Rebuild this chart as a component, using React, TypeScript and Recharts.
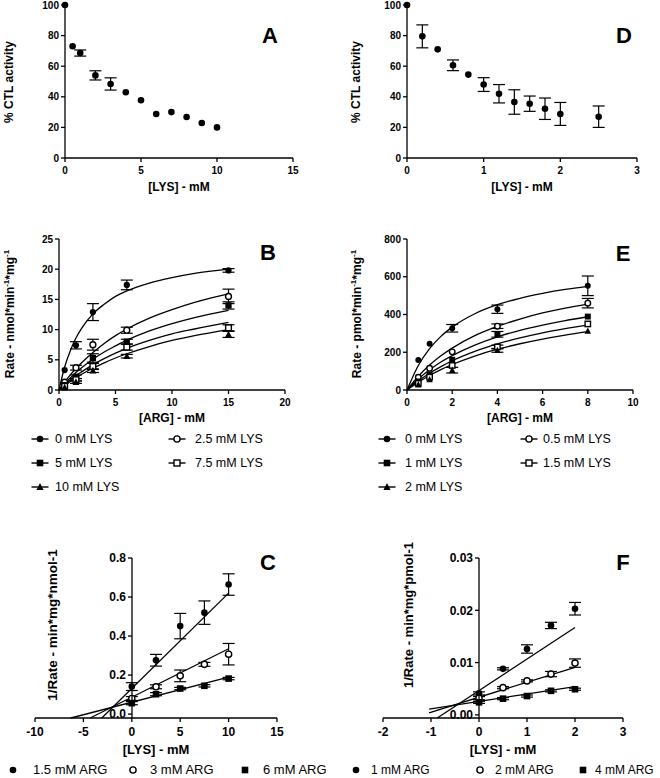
import React from 'react';
import { ComposedChart, Scatter, Line, XAxis, YAxis, ErrorBar, Label } from 'recharts';

const FONT = '"Liberation Sans", Arial, Helvetica, sans-serif';
const INK = '#000';

// A: % CTL activity vs [LYS]
const aLys = [0, 0.5, 1, 2, 3, 4, 5, 6, 7, 8, 9, 10];
const aActivity = [100, 73, 68.6, 54, 48.4, 43, 37.7, 28.8, 30, 26.8, 22.9, 20];
const aErr = [0, 0, 2, 3, 4, 0, 0, 0, 0, 0, 0, 0];

// D: % CTL activity vs [LYS]
const dLys = [0, 0.2, 0.4, 0.6, 0.8, 1, 1.2, 1.4, 1.6, 1.8, 2, 2.5];
const dActivity = [100, 79.5, 71, 60.6, 54.5, 48, 42, 36.6, 35.5, 32.2, 28.8, 27];
const dErr = [0, 7.5, 0, 3.5, 0, 4.5, 6, 8, 5, 7, 7.5, 7];

// B: rate (nmol) vs [ARG], five LYS levels
const bLysLabels = ['0 mM LYS', '2.5 mM LYS', '5 mM LYS', '7.5 mM LYS', '10 mM LYS'];
const bArg = [0.5, 1.5, 3, 6, 15];
const bRate = [
  [3.3, 7.4, 12.9, 17.4, 19.8],
  [1.3, 3.7, 7.5, 9.9, 15.5],
  [0.8, 2.2, 5.3, 8.0, 14.0],
  [0.6, 1.7, 3.9, 7.1, 10.3],
  [0.4, 1.3, 3.2, 5.6, 9.2],
];
const bErr = [
  [0, 0.6, 1.4, 0.8, 0.3],
  [0, 0.4, 0.9, 0.5, 1.2],
  [0, 0.3, 0.7, 0.4, 0.6],
  [0, 0.2, 0.5, 0.5, 0.5],
  [0, 0.2, 0.3, 0.3, 0.5],
];
const bFitArg = [0, 0.5, 1, 1.5, 2, 3, 4, 5, 6, 8, 10, 12, 15];
const bFit = [
  [0, 3.8, 6.5, 8.6, 10.2, 12.6, 14.2, 15.5, 16.4, 17.7, 18.6, 19.3, 20.0],
  [0, 1.3, 2.5, 3.55, 4.5, 6.2, 7.7, 9.0, 10.1, 11.9, 13.3, 14.5, 15.9],
  [0, 1.05, 2.0, 2.9, 3.7, 5.1, 6.3, 7.3, 8.25, 9.8, 11.0, 12.0, 13.2],
  [0, 0.86, 1.65, 2.4, 3.0, 4.2, 5.2, 6.1, 6.9, 8.2, 9.3, 10.1, 11.2],
  [0, 0.72, 1.4, 2.0, 2.6, 3.6, 4.5, 5.3, 6.0, 7.2, 8.2, 9.0, 10.0],
];

// E: rate (pmol) vs [ARG], five LYS levels
const eLysLabels = ['0 mM LYS', '0.5 mM LYS', '1 mM LYS', '1.5 mM LYS', '2 mM LYS'];
const eArg = [0.5, 1, 2, 4, 8];
const eRate = [
  [159, 245, 327, 428, 552],
  [67, 115, 202, 338, 460],
  [45, 82, 160, 295, 389],
  [35, 68, 130, 228, 350],
  [28, 55, 105, 210, 312],
];
const eErr = [
  [0, 0, 20, 22, 52],
  [0, 0, 0, 12, 25],
  [0, 0, 0, 15, 0],
  [0, 0, 0, 10, 0],
  [0, 0, 15, 10, 0],
];
const eFitArg = [0, 0.5, 1, 1.5, 2, 3, 4, 5, 6, 7, 8];
const eFit = [
  [0, 130, 219, 284, 333, 404, 452, 486, 512, 533, 549],
  [0, 73, 132, 181, 222, 288, 337, 376, 408, 434, 455],
  [0, 58, 107, 148, 182, 238, 282, 316, 344, 368, 388],
  [0, 48, 89, 124, 155, 205, 244, 276, 303, 325, 344],
  [0, 41, 77, 108, 135, 180, 216, 245, 270, 291, 309],
];

// C: 1/rate vs [LYS], three ARG levels
const cArgLabels = ['1.5 mM ARG', '3 mM ARG', '6 mM ARG'];
const cLys = [0, 2.5, 5, 7.5, 10];
const cInv = [
  [0.141, 0.276, 0.451, 0.52, 0.664],
  [0.08, 0.14, 0.196, 0.255, 0.307],
  [0.056, 0.102, 0.131, 0.145, 0.182],
];
const cErr = [
  [0.02, 0.03, 0.065, 0.06, 0.055],
  [0.01, 0.01, 0.03, 0.01, 0.055],
  [0.008, 0.008, 0.006, 0.006, 0.006],
];
const cLineX = [[-3.1, 10], [-4.3, 10], [-6.3, 10]];
const cLineY = [[-0.02, 0.62], [-0.02, 0.335], [-0.02, 0.19]];

// F: 1/rate vs [LYS], three ARG levels
const fArgLabels = ['1 mM ARG', '2 mM ARG', '4 mM ARG'];
const fLys = [0, 0.5, 1, 1.5, 2];
const fInv = [
  [0.0041, 0.0088, 0.0126, 0.0171, 0.0203],
  [0.0032, 0.0052, 0.0065, 0.0078, 0.0099],
  [0.0024, 0.0031, 0.0036, 0.0046, 0.0049],
];
const fErr = [
  [0.0003, 0.0002, 0.0008, 0.0006, 0.0012],
  [0.0003, 0.0002, 0.0002, 0.0005, 0.0008],
  [0.0002, 0.0002, 0.0002, 0.0002, 0.0002],
];
const fLineX = [[-0.87, 2], [-1.04, 2], [-1.04, 2]];
const fLineY = [[-0.0006, 0.0167], [0.0004, 0.0091], [0.0011, 0.0054]];

type Pt = { x: number; y: number; e: number };
const zip = (xs: number[], ys: number[], es?: number[]): Pt[] =>
  xs.map((x, i) => ({ x, y: ys[i], e: es ? es[i] : 0 }));

type Kind = 'dotF' | 'dotO' | 'sqF' | 'sqO' | 'tri';

function marker(kind: Kind, cx: number, cy: number, s = 1) {
  switch (kind) {
    case 'dotF':
      return <circle cx={cx} cy={cy} r={3.3 * s} fill={INK} />;
    case 'dotO':
      return <circle cx={cx} cy={cy} r={3.1 * s} fill="#fff" stroke={INK} strokeWidth={1.4} />;
    case 'sqF':
      return <rect x={cx - 3.3 * s} y={cy - 3.3 * s} width={6.6 * s} height={6.6 * s} fill={INK} />;
    case 'sqO':
      return (
        <rect x={cx - 3 * s} y={cy - 3 * s} width={6 * s} height={6 * s} fill="#fff" stroke={INK} strokeWidth={1.4} />
      );
    default:
      return (
        <polygon
          points={`${cx},${cy - 4 * s} ${cx - 3.6 * s},${cy + 3 * s} ${cx + 3.6 * s},${cy + 3 * s}`}
          fill={INK}
        />
      );
  }
}

const shapeOf = (kind: Kind, s = 1) => (p: any) => marker(kind, p.cx, p.cy, s);

const axisStroke = { stroke: INK, strokeWidth: 1.3 };

interface PanelProps {
  left: number;
  top: number;
  width: number;
  height: number;
  margin: { top: number; right: number; bottom: number; left: number };
  yWidth: number;
  xHeight: number;
  xDomain: [number, number];
  xTicks: number[];
  yDomain: [number, number];
  yTicks: number[];
  tickFont: number;
  hideY?: boolean;
  curves: Pt[][];
  curveType: 'monotone' | 'linear';
  series: { data: Pt[]; kind: Kind }[];
  markerScale?: number;
  overlay: React.ReactNode;
}

function Panel(p: PanelProps) {
  return (
    <div style={{ position: 'absolute', left: p.left, top: p.top }}>
      <ComposedChart width={p.width} height={p.height} margin={p.margin}>
        <XAxis
          type="number"
          dataKey="x"
          domain={p.xDomain}
          ticks={p.xTicks}
          interval={0}
          height={p.xHeight}
          tickSize={4}
          tickMargin={5}
          axisLine={axisStroke}
          tickLine={axisStroke}
          tick={{ fill: INK, fontSize: p.tickFont, fontWeight: 700, fontFamily: FONT }}
        >
          <Label content={() => <g>{p.overlay}</g>} />
        </XAxis>
        <YAxis
          type="number"
          dataKey="y"
          domain={p.yDomain}
          ticks={p.yTicks}
          interval={0}
          hide={p.hideY}
          width={p.hideY ? 0 : p.yWidth}
          tickSize={4}
          tickMargin={2}
          axisLine={axisStroke}
          tickLine={axisStroke}
          tick={{ fill: INK, fontSize: p.tickFont, fontWeight: 700, fontFamily: FONT }}
        />
        {p.curves.map((c, i) => (
          <Line
            key={'c' + i}
            data={c}
            dataKey="y"
            type={p.curveType}
            dot={false}
            activeDot={false}
            stroke={INK}
            strokeWidth={1.3}
            isAnimationActive={false}
          />
        ))}
        {p.series.map((s, i) => (
          <Scatter
            key={'s' + i}
            data={s.data}
            dataKey="y"
            shape={shapeOf(s.kind, p.markerScale ?? 1)}
            isAnimationActive={false}
          >
            <ErrorBar dataKey="e" direction="y" width={6} stroke={INK} strokeWidth={1.2} />
          </Scatter>
        ))}
      </ComposedChart>
    </div>
  );
}

// y axis drawn where x = 0 (C and F)
function ZeroAxis(props: {
  left: number;
  top: number;
  width: number;
  height: number;
  mt: number;
  mb: number;
  yWidth: number;
  yDomain: [number, number];
  yTicks: number[];
  digits: number;
}) {
  return (
    <div style={{ position: 'absolute', left: props.left, top: props.top, pointerEvents: 'none' }}>
      <ComposedChart
        width={props.width}
        height={props.height}
        margin={{ top: props.mt, right: 10, bottom: props.mb, left: 0 }}
        data={[{ x: 0, y: 0 }]}
      >
        <XAxis type="number" dataKey="x" hide domain={[0, 1]} />
        <YAxis
          type="number"
          dataKey="y"
          domain={props.yDomain}
          ticks={props.yTicks}
          interval={0}
          width={props.yWidth}
          tickSize={4}
          tickMargin={2}
          axisLine={axisStroke}
          tickLine={axisStroke}
          tickFormatter={(v: number) => v.toFixed(props.digits)}
          tick={{ fill: INK, fontSize: 12, fontWeight: 700, fontFamily: FONT }}
        />
      </ComposedChart>
    </div>
  );
}

const txt = (x: number, y: number, s: React.ReactNode, size: number, rotate = false) => (
  <text
    x={x}
    y={y}
    transform={rotate ? `rotate(-90 ${x} ${y})` : undefined}
    textAnchor="middle"
    dominantBaseline="central"
    fontSize={size}
    fontWeight={700}
    fontFamily={FONT}
    fill={INK}
  >
    {s}
  </text>
);

const rateTitle = (unit: string) => (
  <>
    {`Rate - ${unit}*min`}
    <tspan dy={-4} fontSize={8}>
      -1
    </tspan>
    <tspan dy={4}>*mg</tspan>
    <tspan dy={-4} fontSize={8}>
      -1
    </tspan>
  </>
);

function LegendEntry(props: { ix: number; tx: number; y: number; kind: Kind; line: boolean; text: string; size: number }) {
  return (
    <>
      <svg style={{ position: 'absolute', left: props.ix - 10, top: props.y - 8 }} width={20} height={16}>
        {props.line && <line x1={1.5} x2={18.5} y1={8} y2={8} stroke={INK} strokeWidth={1.4} />}
        {marker(props.kind, 10, 8)}
      </svg>
      <div
        style={{
          position: 'absolute',
          left: props.tx,
          top: props.y - 9,
          fontSize: props.size,
          lineHeight: '18px',
          fontFamily: FONT,
          color: INK,
          whiteSpace: 'nowrap',
        }}
      >
        {props.text}
      </div>
    </>
  );
}

const fiveKinds: Kind[] = ['dotF', 'dotO', 'sqF', 'sqO', 'tri'];
const threeKinds: Kind[] = ['dotF', 'dotO', 'sqF'];

// legend layout: [iconX, textX, y]
const bLegendPos = [[40, 55, 439], [177, 195, 439], [40, 55, 463], [177, 195, 463], [40, 55, 487]];
const eLegendPos = [[387, 405, 439], [529, 543, 439], [387, 405, 463], [529, 543, 463], [387, 405, 487]];
const cLegendPos = [[13, 33, 770], [133, 150, 770], [245, 263, 770]];
const fLegendPos = [[356, 371, 770], [480, 495, 770], [583, 595, 770]];

export default function App() {
  return (
    <div
      style={{
        position: 'absolute',
        left: 0,
        top: 0,
        width: 660,
        height: 778,
        background: '#fff',
        fontFamily: FONT,
        overflow: 'hidden',
      }}
    >
      {/* A */}
      <Panel
        left={0}
        top={0}
        width={330}
        height={200}
        margin={{ top: 5, right: 37, bottom: 0, left: 0 }}
        yWidth={65}
        xHeight={42}
        xDomain={[0, 15]}
        xTicks={[0, 5, 10, 15]}
        yDomain={[0, 100]}
        yTicks={[0, 20, 40, 60, 80, 100]}
        tickFont={10}
        curves={[]}
        curveType="linear"
        series={[{ data: zip(aLys, aActivity, aErr), kind: 'dotF' }]}
        overlay={
          <>
            {txt(179, 187, '[LYS] - mM', 12)}
            {txt(9, 82, '% CTL activity', 12, true)}
            {txt(270, 35, 'A', 22)}
          </>
        }
      />
      {/* D */}
      <Panel
        left={330}
        top={0}
        width={330}
        height={200}
        margin={{ top: 5, right: 23, bottom: 0, left: 0 }}
        yWidth={77}
        xHeight={42}
        xDomain={[0, 3]}
        xTicks={[0, 1, 2, 3]}
        yDomain={[0, 100]}
        yTicks={[0, 20, 40, 60, 80, 100]}
        tickFont={10}
        curves={[]}
        curveType="linear"
        series={[{ data: zip(dLys, dActivity, dErr), kind: 'dotF' }]}
        overlay={
          <>
            {txt(192, 187, '[LYS] - mM', 12)}
            {txt(26, 82, '% CTL activity', 12, true)}
            {txt(294, 35, 'D', 22)}
          </>
        }
      />
      {/* B */}
      <Panel
        left={0}
        top={200}
        width={330}
        height={225}
        margin={{ top: 39, right: 45, bottom: 0, left: 0 }}
        yWidth={59}
        xHeight={35}
        xDomain={[0, 20]}
        xTicks={[0, 5, 10, 15, 20]}
        yDomain={[0, 25]}
        yTicks={[0, 5, 10, 15, 20, 25]}
        tickFont={10}
        curves={bFit.map((ys) => zip(bFitArg, ys))}
        curveType="monotone"
        series={bRate.map((ys, i) => ({ data: zip(bArg, ys, bErr[i]), kind: fiveKinds[i] }))}
        markerScale={0.95}
        overlay={
          <>
            {txt(172, 218, '[ARG] - mM', 12)}
            {txt(10, 114, rateTitle('nmol'), 12, true)}
            {txt(268, 52, 'B', 22)}
          </>
        }
      />
      {/* E */}
      <Panel
        left={330}
        top={200}
        width={330}
        height={225}
        margin={{ top: 39, right: 27, bottom: 0, left: 0 }}
        yWidth={77}
        xHeight={35}
        xDomain={[0, 10]}
        xTicks={[0, 2, 4, 6, 8, 10]}
        yDomain={[0, 800]}
        yTicks={[0, 200, 400, 600, 800]}
        tickFont={10}
        curves={eFit.map((ys) => zip(eFitArg, ys))}
        curveType="monotone"
        series={eRate.map((ys, i) => ({ data: zip(eArg, ys, eErr[i]), kind: fiveKinds[i] }))}
        markerScale={0.9}
        overlay={
          <>
            {txt(190, 218, '[ARG] - mM', 12)}
            {txt(27, 114, rateTitle('pmol'), 12, true)}
            {txt(293, 53, 'E', 22)}
          </>
        }
      />
      {/* C */}
      <Panel
        left={0}
        top={480}
        width={330}
        height={288}
        margin={{ top: 78, right: 53, bottom: 0, left: 35 }}
        yWidth={0}
        xHeight={50}
        hideY
        xDomain={[-10, 15]}
        xTicks={[-10, -5, 0, 5, 10, 15]}
        yDomain={[-0.02, 0.8]}
        yTicks={[0, 0.2, 0.4, 0.6, 0.8]}
        tickFont={12}
        curves={cLineX.map((xs, i) => zip(xs, cLineY[i]))}
        curveType="linear"
        series={cInv.map((ys, i) => ({ data: zip(cLys, ys, cErr[i]), kind: threeKinds[i] }))}
        overlay={
          <>
            {txt(156, 269, '[LYS] - mM', 13)}
            {txt(52, 145, '1/Rate - min*mg*nmol-1', 13.5, true)}
            {txt(268, 82, 'C', 22)}
          </>
        }
      />
      <ZeroAxis
        left={0}
        top={480}
        width={330}
        height={288}
        mt={78}
        mb={50}
        yWidth={132}
        yDomain={[-0.02, 0.8]}
        yTicks={[0, 0.2, 0.4, 0.6, 0.8]}
        digits={1}
      />
      {/* F */}
      <Panel
        left={330}
        top={480}
        width={330}
        height={288}
        margin={{ top: 78, right: 37, bottom: 0, left: 53 }}
        yWidth={0}
        xHeight={50}
        hideY
        xDomain={[-2, 3]}
        xTicks={[-2, -1, 0, 1, 2, 3]}
        yDomain={[-0.0006, 0.03]}
        yTicks={[0, 0.01, 0.02, 0.03]}
        tickFont={12}
        curves={fLineX.map((xs, i) => zip(xs, fLineY[i]))}
        curveType="linear"
        series={fInv.map((ys, i) => ({ data: zip(fLys, ys, fErr[i]), kind: threeKinds[i] }))}
        overlay={
          <>
            {txt(173, 269, '[LYS] - mM', 13)}
            {txt(78, 135, '1/Rate - min*mg*pmol-1', 13, true)}
            {txt(293, 82, 'F', 22)}
          </>
        }
      />
      <ZeroAxis
        left={330}
        top={480}
        width={330}
        height={288}
        mt={78}
        mb={50}
        yWidth={149}
        yDomain={[-0.0006, 0.03]}
        yTicks={[0, 0.01, 0.02, 0.03]}
        digits={2}
      />
      {/* legends */}
      {bLysLabels.map((t, i) => (
        <LegendEntry
          key={'bl' + i}
          ix={bLegendPos[i][0]}
          tx={bLegendPos[i][1]}
          y={bLegendPos[i][2]}
          kind={fiveKinds[i]}
          line
          text={t}
          size={12.5}
        />
      ))}
      {eLysLabels.map((t, i) => (
        <LegendEntry
          key={'el' + i}
          ix={eLegendPos[i][0]}
          tx={eLegendPos[i][1]}
          y={eLegendPos[i][2]}
          kind={fiveKinds[i]}
          line
          text={t}
          size={12.5}
        />
      ))}
      {cArgLabels.map((t, i) => (
        <LegendEntry
          key={'cl' + i}
          ix={cLegendPos[i][0]}
          tx={cLegendPos[i][1]}
          y={cLegendPos[i][2]}
          kind={threeKinds[i]}
          line={false}
          text={t}
          size={13}
        />
      ))}
      {fArgLabels.map((t, i) => (
        <LegendEntry
          key={'fl' + i}
          ix={fLegendPos[i][0]}
          tx={fLegendPos[i][1]}
          y={fLegendPos[i][2]}
          kind={threeKinds[i]}
          line={false}
          text={t}
          size={12}
        />
      ))}
    </div>
  );
}
